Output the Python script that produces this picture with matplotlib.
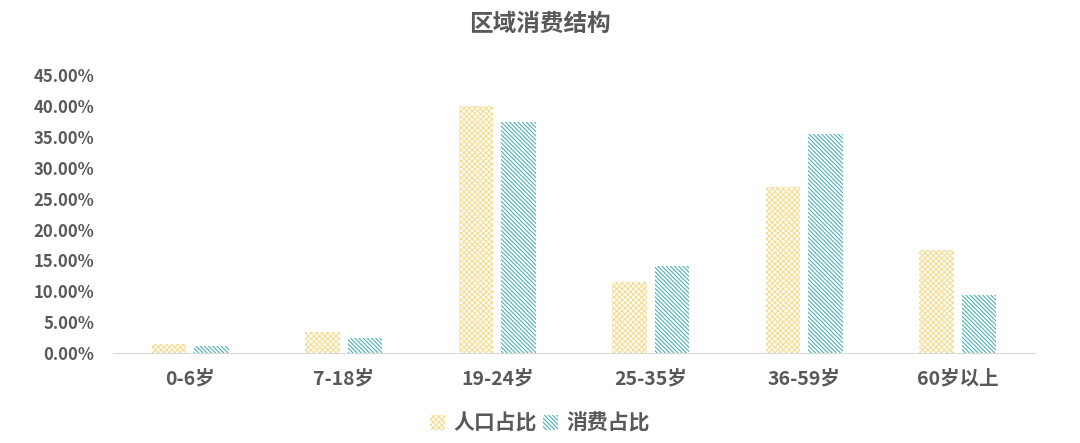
import matplotlib
matplotlib.use("Agg")
import matplotlib.pyplot as plt
import numpy as np
from matplotlib.ticker import FuncFormatter

plt.rcParams['font.family'] = ['Noto Sans CJK SC', 'DejaVu Sans']
plt.rcParams['hatch.linewidth'] = 0.8

categories = ["0-6岁", "7-18岁", "19-24岁", "25-35岁", "36-59岁", "60岁以上"]
population = [1.5, 3.4, 40.0, 11.5, 26.9, 16.7]
consumption = [1.1, 2.4, 37.4, 14.1, 35.5, 9.4]

TEXT = "#595959"
YELLOW = "#F5DC8E"
TEAL = "#4FB0B5"

fig = plt.figure(figsize=(10.8, 4.43), dpi=100)
ax = fig.add_axes([0.105, 0.203, 0.853, 0.627])

x = np.arange(len(categories))
w = 0.226
off = 0.138
ax.bar(x - off, population, w, facecolor="white", edgecolor=YELLOW,
       hatch="xxxxxx", linewidth=0, label="人口占比")
ax.bar(x + off, consumption, w, facecolor="white", edgecolor=TEAL,
       hatch="\\\\\\\\\\\\\\\\", linewidth=0, label="消费占比")

ax.set_xlim(-0.5, len(categories) - 0.5)
ax.set_ylim(0, 45)
ax.set_yticks(np.arange(0, 46, 5))
ax.yaxis.set_major_formatter(FuncFormatter(lambda v, p: f"{v:.2f}%"))
ax.set_xticks(x)
ax.set_xticklabels(categories)

for s in ["top", "right", "left"]:
    ax.spines[s].set_visible(False)
ax.spines["bottom"].set_color("#D9D9D9")
ax.tick_params(axis="both", length=0, labelcolor=TEXT)
ax.tick_params(axis="x", pad=12, labelsize=14)
ax.tick_params(axis="y", pad=14, labelsize=12)
for lbl in ax.get_xticklabels() + ax.get_yticklabels():
    lbl.set_fontweight("bold")

fig.text(0.5, 0.945, "区域消费结构", ha="center", va="center",
         fontsize=17, fontweight="bold", color=TEXT)

leg = fig.legend(loc="center", bbox_to_anchor=(0.5, 0.045), ncol=2, frameon=False,
                 prop={"size": 15, "weight": "bold"}, handlelength=0.7,
                 handleheight=0.7, handletextpad=0.4, columnspacing=0.3)
for t in leg.get_texts():
    t.set_color(TEXT)

fig.savefig("out.png", dpi=100)
